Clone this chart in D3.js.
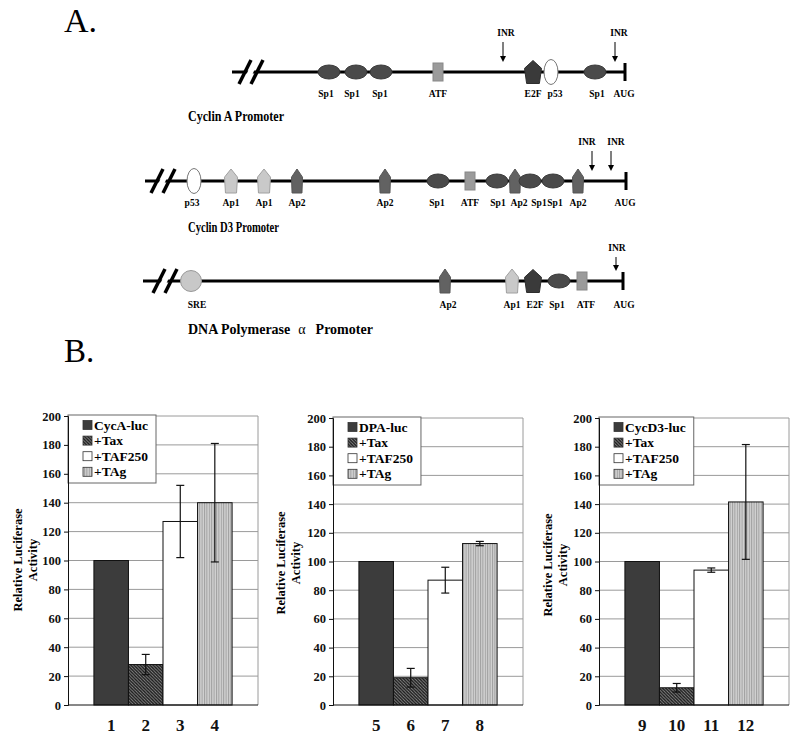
<!DOCTYPE html>
<html>
<head>
<meta charset="utf-8">
<script src="https://cdn.jsdelivr.net/npm/d3@7"></script>
<style>
  html, body { margin: 0; padding: 0; background: #fff; }
  svg { display: block; }
  text { font-family: "Liberation Serif", "Times New Roman", serif; }
</style>
</head>
<body>
<svg id="chart" width="800" height="739"></svg>
<script>
// ---------------- DATA ----------------
// Part A: promoter maps (positions in arbitrary units upstream of AUG = 0)
const cycASites = ["Sp1", "Sp1", "Sp1", "ATF", "E2F", "p53", "Sp1"];
const cycAPos   = [-296, -269, -244, -187, -92, -74, -30];
const cycALabelPos = [-299, -273, -245, -187, -92, -70, -28, -1];
const cycAINR   = [-122, -10];
const cycAINRLabel = [-119, -6];
const cycAStart = -393;
const cycABreak = -371;

const cycD3Sites = ["p53", "Ap1", "Ap1", "Ap2", "Ap2", "Sp1", "ATF", "Sp1", "Ap2", "Sp1", "Sp1", "Ap2"];
const cycD3Pos   = [-431, -394, -361, -328, -240, -187, -155, -128, -110, -95, -72, -47];
const cycD3LabelPos = [-433, -394, -361, -328, -240, -188, -155, -127, -106, -86, -70, -47, 0];
const cycD3INR   = [-33, -14];
const cycD3INRLabel = [-38, -9];
const cycD3Start = -480;
const cycD3Break = -459;

const dpaSites = ["SRE", "Ap2", "Ap1", "E2F", "Sp1", "ATF"];
const dpaPos   = [-434, -180, -113, -92, -66, -43];
const dpaLabelPos = [-428, -177, -113, -90, -68, -39, -1];
const dpaINR   = [-9];
const dpaINRLabel = [-8];
const dpaStart = -482;
const dpaBreak = -457;

const promoterTitles = ["Cyclin A Promoter", "Cyclin D3 Promoter", "DNA Polymerase", "α", "Promoter"];

// Part B: luciferase assays
const panel1Legend = ["CycA-luc", "+Tax", "+TAF250", "+TAg"];
const panel2Legend = ["DPA-luc", "+Tax", "+TAF250", "+TAg"];
const panel3Legend = ["CycD3-luc", "+Tax", "+TAF250", "+TAg"];
const panel1Lanes = ["1", "2", "3", "4"];
const panel2Lanes = ["5", "6", "7", "8"];
const panel3Lanes = ["9", "10", "11", "12"];
const panel1Values = [100, 28, 127, 140];
const panel2Values = [100, 19, 87, 112.5];
const panel3Values = [100, 12, 94, 141.5];
const panel1Errors = [0, 7, 25, 41];
const panel2Errors = [0, 6.5, 9, 1.5];
const panel3Errors = [0, 3, 1.5, 40];
const yTicks = [0, 20, 40, 60, 80, 100, 120, 140, 160, 180, 200];
const yAxisTitle = ["Relative Luciferase", "Activity"];

// ---------------- DRAW ----------------
const svg = d3.select("#chart");
const defs = svg.append("defs");

// patterns
const hatch = defs.append("pattern").attr("id", "hatch")
  .attr("patternUnits", "userSpaceOnUse").attr("width", 3.2).attr("height", 3.2);
hatch.append("rect").attr("width", 3.2).attr("height", 3.2).attr("fill", "#8e8e8e");
hatch.append("path").attr("d", "M-1,-1 L4.2,4.2 M-1,2.2 L1,4.2 M2.2,-1 L4.2,1")
  .attr("stroke", "#1a1a1a").attr("stroke-width", 1.35);

const vstripe = defs.append("pattern").attr("id", "vstripe")
  .attr("patternUnits", "userSpaceOnUse").attr("width", 2.4).attr("height", 4);
vstripe.append("rect").attr("width", 2.4).attr("height", 4).attr("fill", "#d2d2d2");
vstripe.append("rect").attr("width", 1).attr("height", 4).attr("fill", "#9e9e9e");

const barFills = ["#3c3c3c", "url(#hatch)", "#ffffff", "url(#vstripe)"];

// Panel labels
svg.append("text").attr("x", 64).attr("y", 32).attr("font-size", 34).text("A.");
svg.append("text").attr("x", 64).attr("y", 362).attr("font-size", 33).text("B.");

// ---- Promoter maps ----
const px = d3.scaleLinear().domain([-500, 0]).range([125, 625]);

function pentagon(cx, cy, w, h, taper) {
  const top = cy - h / 2, bot = cy + h / 2, sh = top + h * 0.34;
  return [[cx, top], [cx + w / 2, sh], [cx + w / 2 * taper, bot], [cx - w / 2 * taper, bot], [cx - w / 2, sh]];
}

function drawSite(g, type, cx, cy) {
  if (type === "Sp1") {
    g.append("ellipse").attr("cx", cx).attr("cy", cy).attr("rx", 11).attr("ry", 7)
      .attr("fill", "#4a4a4a").attr("stroke", "#3a3a3a");
  } else if (type === "ATF") {
    g.append("rect").attr("x", cx - 5).attr("y", cy - 9).attr("width", 10).attr("height", 18)
      .attr("fill", "#9b9b9b").attr("stroke", "#888");
  } else if (type === "p53") {
    g.append("ellipse").attr("cx", cx).attr("cy", cy).attr("rx", 7).attr("ry", 12.5)
      .attr("fill", "#fff").attr("stroke", "#777");
  } else if (type === "E2F") {
    g.append("polygon").attr("points", pentagon(cx, cy, 17, 23, 0.75).join(" "))
      .attr("fill", "#3a3a3a").attr("stroke", "#2e2e2e");
  } else if (type === "Ap1") {
    g.append("polygon").attr("points", pentagon(cx, cy, 13, 24, 0.85).join(" "))
      .attr("fill", "#c9c9c9").attr("stroke", "#a0a0a0");
  } else if (type === "Ap2") {
    g.append("polygon").attr("points", pentagon(cx, cy, 11, 24, 0.9).join(" "))
      .attr("fill", "#626262").attr("stroke", "#555");
  } else if (type === "SRE") {
    g.append("circle").attr("cx", cx).attr("cy", cy).attr("r", 10.5)
      .attr("fill", "#c8c8c8").attr("stroke", "#999");
  }
}

function drawPromoter(cfg) {
  const g = svg.append("g");
  const y = cfg.lineY;
  const x0 = px(cfg.start), x1 = px(cfg.end);
  g.append("line").attr("x1", x0).attr("x2", x1).attr("y1", y).attr("y2", y)
    .attr("stroke", "#000").attr("stroke-width", 3);
  // break mark
  const bx = px(cfg.brk);
  g.append("polygon").attr("points", [[bx - 12, y + 12], [bx - 1, y - 12], [bx + 5, y - 12], [bx - 6, y + 12]].join(" "))
    .attr("fill", "#fff");
  [-9, 3].forEach(d => {
    g.append("line").attr("x1", bx + d - 6).attr("y1", y + 12).attr("x2", bx + d + 6).attr("y2", y - 12)
      .attr("stroke", "#000").attr("stroke-width", 3.5);
  });
  // end bar
  g.append("line").attr("x1", x1).attr("x2", x1).attr("y1", y - 9).attr("y2", y + 9)
    .attr("stroke", "#000").attr("stroke-width", 3);
  // sites
  cfg.sites.forEach((s, i) => drawSite(g, s, px(cfg.pos[i]), y));
  // labels
  const labs = cfg.sites.concat(["AUG"]).map((s, i) => ({ t: s, x: px(cfg.labelPos[i]) }));
  g.selectAll("text.site").data(labs).enter().append("text")
    .attr("x", d => d.x).attr("y", y + cfg.labOff).attr("text-anchor", "middle")
    .attr("font-size", 9.5).attr("font-weight", "bold").text(d => d.t);
  // INR arrows
  cfg.inr.forEach((p, i) => {
    const ax = px(p);
    g.append("text").attr("x", px(cfg.inrLabel[i])).attr("y", cfg.inrY).attr("text-anchor", "middle")
      .attr("font-size", 9.5).attr("font-weight", "bold").text("INR");
    g.append("line").attr("x1", ax).attr("x2", ax).attr("y1", cfg.inrY + 6).attr("y2", y - 14)
      .attr("stroke", "#000").attr("stroke-width", 1);
    g.append("polygon").attr("points", [[ax - 3, y - 16], [ax + 3, y - 16], [ax, y - 10]].join(" "))
      .attr("fill", "#000");
  });
}

drawPromoter({ lineY: 72, start: cycAStart, end: 0, brk: cycABreak, sites: cycASites, pos: cycAPos, labelPos: cycALabelPos, inr: cycAINR, inrLabel: cycAINRLabel, inrY: 36, labOff: 24.5 });
drawPromoter({ lineY: 181, start: cycD3Start, end: 1, brk: cycD3Break, sites: cycD3Sites, pos: cycD3Pos, labelPos: cycD3LabelPos, inr: cycD3INR, inrLabel: cycD3INRLabel, inrY: 145, labOff: 24.5 });
drawPromoter({ lineY: 281, start: dpaStart, end: -2, brk: dpaBreak, sites: dpaSites, pos: dpaPos, labelPos: dpaLabelPos, inr: dpaINR, inrLabel: dpaINRLabel, inrY: 251, labOff: 27 });

// titles
svg.append("text").attr("x", 188).attr("y", 121).attr("font-size", 15).attr("font-weight", "bold")
  .attr("textLength", 96).attr("lengthAdjust", "spacingAndGlyphs").text(promoterTitles[0]);
svg.append("text").attr("x", 188).attr("y", 232).attr("font-size", 15).attr("font-weight", "bold")
  .attr("textLength", 91).attr("lengthAdjust", "spacingAndGlyphs").text(promoterTitles[1]);
const t3 = svg.append("text").attr("x", 188).attr("y", 334).attr("font-size", 14).attr("font-weight", "bold");
t3.append("tspan").text(promoterTitles[2]);
t3.append("tspan").attr("dx", 8).attr("font-weight", "normal").text(promoterTitles[3]);
t3.append("tspan").attr("dx", 10).text(promoterTitles[4]);

// ---- Bar panels ----
function drawPanel(cfg) {
  const g = svg.append("g");
  const left = cfg.left, right = cfg.left + 190, top = cfg.top, bottom = 705;
  const y = d3.scaleLinear().domain([0, 200]).range([bottom, top]);
  const x = d3.scaleBand().domain(cfg.lanes).range([left, right]).paddingInner(0).paddingOuter(0.75);

  // gridlines
  g.selectAll("line.grid").data(yTicks.filter(t => t > 0)).enter().append("line")
    .attr("x1", left).attr("x2", right).attr("y1", d => y(d)).attr("y2", d => y(d))
    .attr("stroke", "#9a9a9a").attr("stroke-width", 1);
  g.append("line").attr("x1", right).attr("x2", right).attr("y1", top).attr("y2", bottom)
    .attr("stroke", "#9a9a9a");

  // legend
  const lg = g.append("g");
  const lbox = lg.append("rect").attr("x", left).attr("y", top - 1).attr("height", 68)
    .attr("fill", "#fff").attr("stroke", "#666").attr("stroke-width", 1);
  let maxW = 0;
  cfg.legend.forEach((name, i) => {
    const cy = top + 9 + i * 15.6;
    lg.append("rect").attr("x", left + 15).attr("y", cy - 4.5).attr("width", 9).attr("height", 9)
      .attr("fill", barFills[i]).attr("stroke", "#333").attr("stroke-width", 0.8);
    const t = lg.append("text").attr("x", left + 26).attr("y", cy + 4.5)
      .attr("font-size", 13.5).attr("font-weight", "bold").text(name);
    maxW = Math.max(maxW, t.node().getComputedTextLength());
  });
  lbox.attr("width", 26 + maxW + 8);

  // bars
  g.selectAll("rect.bar").data(cfg.values).enter().append("rect")
    .attr("x", (d, i) => x(cfg.lanes[i])).attr("width", x.bandwidth())
    .attr("y", d => y(d)).attr("height", d => bottom - y(d))
    .attr("fill", (d, i) => barFills[i]).attr("stroke", "#111").attr("stroke-width", 1);

  // error bars
  cfg.values.forEach((v, i) => {
    const e = cfg.errors[i];
    if (!e) return;
    const cx = x(cfg.lanes[i]) + x.bandwidth() / 2;
    g.append("line").attr("x1", cx).attr("x2", cx).attr("y1", y(v + e)).attr("y2", y(v - e))
      .attr("stroke", "#111").attr("stroke-width", 1.2);
    [v + e, v - e].forEach(w => {
      g.append("line").attr("x1", cx - 4).attr("x2", cx + 4).attr("y1", y(w)).attr("y2", y(w))
        .attr("stroke", "#111").attr("stroke-width", 1.2);
    });
  });

  // axes
  const yAxis = d3.axisLeft(y).tickValues(yTicks).tickSize(4).tickPadding(3);
  const ya = g.append("g").attr("transform", `translate(${left},0)`).call(yAxis);
  ya.select(".domain").attr("stroke", "#111");
  ya.selectAll(".tick line").attr("stroke", "#111");
  ya.selectAll("text").attr("font-family", "Liberation Serif").attr("font-size", 12.5)
    .attr("font-weight", "bold").attr("fill", "#111");

  const xAxis = d3.axisBottom(x).tickSize(0).tickPadding(14);
  const xa = g.append("g").attr("transform", `translate(0,${bottom})`).call(xAxis);
  xa.select(".domain").attr("stroke", "#111").attr("d", `M${left},0H${right}`);
  xa.selectAll("text").attr("font-family", "Liberation Serif").attr("font-size", 17)
    .attr("font-weight", "bold").attr("fill", "#111");

  // y-axis title
  const tt = g.append("text").attr("transform", `translate(${cfg.titleX},${cfg.titleY}) rotate(-90)`)
    .attr("text-anchor", "middle").attr("font-size", 12.5).attr("font-weight", "bold");
  tt.append("tspan").attr("x", 0).attr("dy", 0).text(yAxisTitle[0]);
  tt.append("tspan").attr("x", 0).attr("dy", 15).text(yAxisTitle[1]);
}

drawPanel({ left: 68, top: 416, lanes: panel1Lanes, values: panel1Values, errors: panel1Errors, legend: panel1Legend, titleX: 22, titleY: 560 });
drawPanel({ left: 333, top: 418, lanes: panel2Lanes, values: panel2Values, errors: panel2Errors, legend: panel2Legend, titleX: 285, titleY: 563 });
drawPanel({ left: 599, top: 418, lanes: panel3Lanes, values: panel3Values, errors: panel3Errors, legend: panel3Legend, titleX: 552, titleY: 565 });
</script>
</body>
</html>
